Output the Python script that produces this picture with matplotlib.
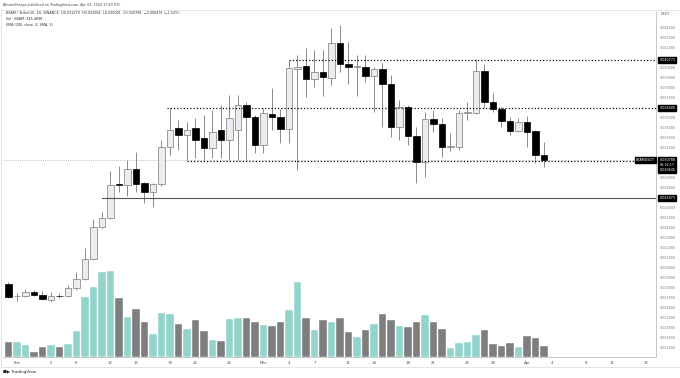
import matplotlib.pyplot as plt
from matplotlib.patches import Rectangle
from matplotlib.transforms import blended_transform_factory

# --- datos (BEAM/USDT diario, 31 ene - 3 abr 2024) ---
# dia 0 = 1 feb
dias = list(range(-1, 63))
aperturas = [0.018388, 0.017188, 0.017188, 0.017588, 0.017288, 0.016788, 0.017238, 0.017188,
             0.017988, 0.018888, 0.020888, 0.024088, 0.024988, 0.028338, 0.028288, 0.029888,
             0.028488, 0.027588, 0.028388, 0.032088, 0.033988, 0.033288, 0.033988, 0.032988,
             0.031988, 0.033788, 0.032788, 0.033788, 0.036288, 0.035088, 0.032288, 0.035388,
             0.035088, 0.033888, 0.039888, 0.040188, 0.038888, 0.039588, 0.038988, 0.042488,
             0.040388, 0.040108, 0.040088, 0.039188, 0.039888, 0.038388, 0.034088, 0.036088,
             0.033188, 0.030588, 0.034888, 0.034388, 0.032088, 0.032088, 0.035488, 0.035488,
             0.039688, 0.036588, 0.035888, 0.034688, 0.033688, 0.034588, 0.033688, 0.031279]
maximos = [0.018588, 0.017488, 0.017888, 0.017788, 0.017688, 0.017588, 0.017488, 0.018288,
           0.019588, 0.021988, 0.024888, 0.025588, 0.029688, 0.030188, 0.030788, 0.031588,
           0.028588, 0.028488, 0.032788, 0.035988, 0.034788, 0.034588, 0.034988, 0.035288,
           0.035788, 0.036288, 0.037288, 0.037288, 0.036588, 0.035288, 0.035988, 0.037988,
           0.035888, 0.040788, 0.041288, 0.041988, 0.041788, 0.041788, 0.043988, 0.044288,
           0.042588, 0.041288, 0.041288, 0.040088, 0.040488, 0.039288, 0.036788, 0.036288,
           0.034088, 0.035588, 0.035788, 0.034988, 0.033488, 0.035788, 0.036588, 0.040888,
           0.040388, 0.037488, 0.036088, 0.035088, 0.034988, 0.035188, 0.033788, 0.032584]
minimos = [0.016988, 0.016688, 0.017088, 0.017188, 0.016788, 0.016588, 0.016988, 0.017088,
           0.017788, 0.018788, 0.020788, 0.023988, 0.024888, 0.027588, 0.027188, 0.027588,
           0.026488, 0.026088, 0.028188, 0.031288, 0.031788, 0.030788, 0.030988, 0.030788,
           0.030988, 0.030988, 0.030788, 0.030788, 0.030788, 0.031488, 0.031488, 0.033788,
           0.032488, 0.032488, 0.029788, 0.037088, 0.038088, 0.037188, 0.038288, 0.039588,
           0.038388, 0.037188, 0.038588, 0.035588, 0.034088, 0.033088, 0.032788, 0.032288,
           0.028488, 0.029088, 0.033588, 0.031088, 0.031688, 0.031788, 0.034788, 0.035388,
           0.035988, 0.035588, 0.034088, 0.033288, 0.033588, 0.032088, 0.030488, 0.030081]
cierres = [0.017088, 0.017200, 0.017588, 0.017288, 0.016888, 0.017188, 0.017188, 0.017988,
           0.018888, 0.020888, 0.024088, 0.024988, 0.028288, 0.028238, 0.029888, 0.028388,
           0.027588, 0.028388, 0.032088, 0.033788, 0.033288, 0.033788, 0.032788, 0.031988,
           0.033588, 0.032788, 0.034988, 0.036288, 0.035088, 0.032288, 0.035488, 0.035088,
           0.033888, 0.039988, 0.040138, 0.038888, 0.039588, 0.039088, 0.042488, 0.040388,
           0.040088, 0.040158, 0.039188, 0.039888, 0.038388, 0.034088, 0.036088, 0.033188,
           0.030588, 0.034888, 0.034388, 0.032088, 0.032138, 0.035488, 0.035538, 0.039688,
           0.036588, 0.035888, 0.034688, 0.033688, 0.034588, 0.033588, 0.031288, 0.030788]
# volumen en miles de BEAM
volumen = [341, 328, 268, 105, 230, 268, 230, 283, 580, 1345, 1554, 1889, 1918, 1309, 899, 1070,
           774, 513, 988, 966, 729, 631, 818, 586, 379, 350, 841, 876, 870, 780, 714, 691,
           780, 1048, 1672, 870, 602, 825, 780, 870, 557, 446, 602, 736, 959, 825, 691, 669,
           780, 937, 780, 624, 194, 305, 341, 491, 602, 283, 252, 305, 216, 468, 424, 245.489]

# niveles horizontales dibujados (precio, dia de inicio, estilo)
niveles = [0.040773, 0.036000, 0.030645, 0.026973]
inicio_niveles = [32, 17.7, 20, 10]
estilo_niveles = [':', ':', ':', '-']

# etiquetas del eje de tiempo
pos_fechas = [0, 4, 7, 11, 14, 18, 21, 25, 29, 32, 35, 39, 42, 46, 49, 53, 56, 60, 63, 67, 70, 74]
etiquetas_fechas = ['Feb', '5', '8', '12', '15', '19', '22', '26', 'Mar', '4', '7', '11', '14',
                    '18', '21', '25', '28', 'Apr', '4', '8', '11', '15']
precio_actual = 0.030788

# colores
COL_SUBE = '#ececf0'
COL_BAJA = '#000000'
COL_MECHA = '#8a8a8a'
COL_VOL_SUBE = '#92d3cc'
COL_VOL_BAJA = '#7e7e7e'
GRIS_TXT = '#555555'
FS = 2.4

fig = plt.figure(figsize=(6.8, 3.78), dpi=100)
ax = fig.add_axes([3 / 680, 21 / 378, 653 / 680, 345 / 378])
ax_vol = ax.twinx()
ax.set_zorder(ax_vol.get_zorder() + 1)
ax.patch.set_visible(False)

# --- volumen ---
col_vol = [COL_VOL_SUBE if c >= o else COL_VOL_BAJA for o, c in zip(aperturas, cierres)]
ax_vol.bar(dias, volumen, width=0.92, color=col_vol, edgecolor='white', linewidth=0.3)
ax_vol.set_ylim(0, 7694)
ax_vol.axis('off')

# --- velas ---
ax.vlines(dias, minimos, maximos, color=COL_MECHA, linewidth=0.7, zorder=2)
bases = [min(o, c) for o, c in zip(aperturas, cierres)]
alturas = [max(abs(c - o), 0.00005) for o, c in zip(aperturas, cierres)]
col_velas = [COL_SUBE if c >= o else COL_BAJA for o, c in zip(aperturas, cierres)]
bordes = ['#7a7a7a' if c >= o else '#000000' for o, c in zip(aperturas, cierres)]
ax.bar(dias, alturas, bottom=bases, width=0.72, color=col_velas, edgecolor=bordes,
       linewidth=0.5, zorder=3)

xmin, xmax = -1.647, 75.18
ax.set_xlim(xmin, xmax)
ax.set_ylim(0.011088, 0.045588)

# linea de precio actual
ax.axhline(precio_actual, color='#b0b0b0', linestyle=(0, (1, 1.5)), linewidth=0.6, zorder=1)

# niveles
for p, d0, st in zip(niveles, inicio_niveles, estilo_niveles):
    if st == '-':
        ax.plot([d0, xmax], [p, p], color='#555555', linewidth=0.8, zorder=4)
    else:
        ax.plot([d0, xmax], [p, p], color='#111111', linestyle=(0, (1, 1.6)),
                linewidth=0.9, zorder=4)

# ejes: se ocultan las marcas que quedan tapadas por las etiquetas negras
ocultos = [0.041, 0.036, 0.031, 0.030, 0.027]
marcas = [round(0.012 + 0.001 * i, 3) for i in range(33)]
marcas = [m for m in marcas if m not in ocultos]
ax.yaxis.tick_right()
ax.set_yticks(marcas)
ax.set_yticklabels([f'{m:.6f}' for m in marcas])
ax.tick_params(axis='y', length=0, pad=3, labelsize=FS, labelcolor='#7a7a7a')
ax.set_xticks(pos_fechas)
ax.set_xticklabels(etiquetas_fechas)
ax.tick_params(axis='x', length=0, pad=3, labelsize=2.8, labelcolor=GRIS_TXT)
for lado in ['top', 'left']:
    ax.spines[lado].set_visible(False)
ax.spines['right'].set_color('#c8c8c8')
ax.spines['bottom'].set_color('#c8c8c8')
ax.spines['right'].set_linewidth(0.7)
ax.spines['bottom'].set_linewidth(0.7)

# etiquetas en el eje de precios
trans = blended_transform_factory(ax.transAxes, ax.transData)
caja = dict(boxstyle='square,pad=0.25', facecolor='black', edgecolor='black')
for p, txt in [(0.040773, '0.040773'), (0.036000, '0.036000'), (0.026973, '0.026973')]:
    ax.text(1.005, p, txt, transform=trans, fontsize=FS, color='white', va='center',
            ha='left', bbox=caja, zorder=6, clip_on=False)
ax.text(1.005, precio_actual + 0.0002, '0.030788\n06:16:17\n0.030645', transform=trans,
        fontsize=FS, color='white', va='top', ha='left', bbox=caja, zorder=6, clip_on=False,
        linespacing=1.3)
ax.text(0.9985, precio_actual, 'BEAMUSDT', transform=trans, fontsize=FS, color='white',
        va='center', ha='right', bbox=caja, zorder=6, clip_on=False)

# textos de cabecera y leyenda
fig.text(3 / 680, 1 - 5 / 378, 'AltcoinSherpa published on TradingView.com, Apr 03, 2024 17:43 UTC',
         fontsize=FS, color='#444444', va='center')
fig.text(6 / 680, 1 - 13.5 / 378,
         'BEAM / TetherUS, 1D, BINANCE  O0.031279  H0.032584  L0.030081  C0.030788  '
         '\u22120.000476 (\u22121.52%)', fontsize=FS, color='#333333', va='center')
fig.text(6 / 680, 1 - 19.5 / 378, 'Vol \u00b7 BEAM  245.489K', fontsize=FS, color='#333333',
         va='center')
fig.text(6 / 680, 1 - 25.5 / 378, 'EMA (200, close, 0, SMA, 5)', fontsize=FS, color='#333333',
         va='center')
fig.text(665 / 680, 1 - 14 / 378, 'USDT', fontsize=FS, color='#555555', va='center',
         ha='center')
fig.text(3 / 680, 1 - 372 / 378, '\u25a0\u25b6 TradingView', fontsize=3, color='#222222',
         va='center')

# marco exterior
fig.patches.append(Rectangle((0.5 / 680, 1 - 367 / 378), 679 / 680, 357 / 378,
                             transform=fig.transFigure, fill=False, edgecolor='#e0e0e0',
                             linewidth=0.6))

plt.savefig('out.png', dpi=100)
